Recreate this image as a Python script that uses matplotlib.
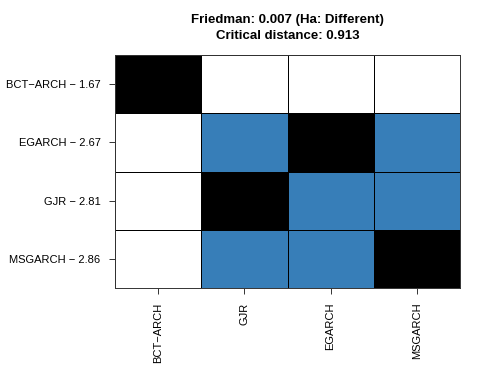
import numpy as np
import matplotlib.pyplot as plt
from matplotlib.colors import ListedColormap

plt.rcParams['font.family'] = ['Liberation Sans', 'DejaVu Sans']

row_labels = ['BCT\u2212ARCH \u2212 1.67', 'EGARCH \u2212 2.67', 'GJR \u2212 2.81', 'MSGARCH \u2212 2.86']
col_labels = ['BCT\u2212ARCH', 'GJR', 'EGARCH', 'MSGARCH']
# 0 = significantly different (white), 1 = not different (blue), 2 = same model (black)
cells = [[2, 0, 0, 0],
         [0, 1, 2, 1],
         [0, 2, 1, 1],
         [0, 1, 1, 2]]
friedman_p = 0.007
crit_dist = 0.913

fig = plt.figure(figsize=(4.88, 3.72), dpi=100)
ax = fig.add_axes([115/488, 1-288/372, 345/488, 233/372])

cmap = ListedColormap(['white', '#377EB8', 'black'])
ax.pcolormesh(np.array(cells), cmap=cmap, vmin=-0.5, vmax=2.5,
              edgecolors='black', linewidth=0.5)
ax.set_xlim(0, 4)
ax.set_ylim(4, 0)
ax.set_xticks(np.arange(4) + 0.5)
ax.set_xticklabels(col_labels, rotation=90, fontsize=8)
ax.set_yticks(np.arange(4) + 0.5)
ax.set_yticklabels(row_labels, fontsize=8)
ax.tick_params(length=4.5, width=0.7, pad=6, color='#333333')
for s in ax.spines.values():
    s.set_linewidth(0.7)
    s.set_color('#333333')

fig.text(287.5/488, 1-20/372, 'Friedman: %.3f (Ha: Different)' % friedman_p,
         ha='center', va='center', fontsize=9.5, fontweight='bold')
fig.text(287.5/488, 1-36/372, 'Critical distance: %.3f' % crit_dist,
         ha='center', va='center', fontsize=9.5, fontweight='bold')

fig.savefig('out.png', dpi=100)
